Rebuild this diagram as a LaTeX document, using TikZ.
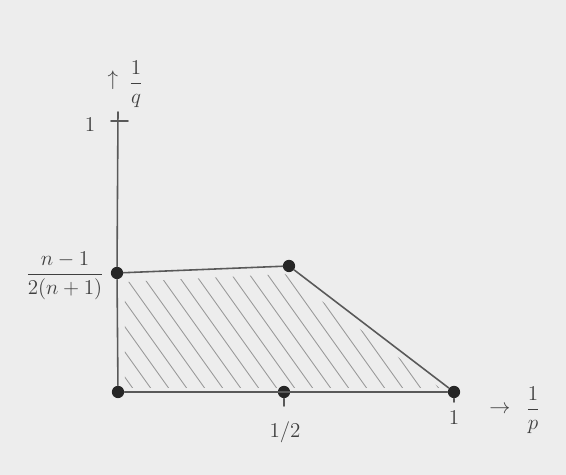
\documentclass[tikz,border=0pt]{standalone}
\usepackage{amsmath}
\begin{document}
\begin{tikzpicture}[x=0.02cm,y=-0.02cm,
  edge/.style={draw=black!65,line width=0.9pt,line cap=round},
  pt/.style={circle,fill=black!85,inner sep=0pt,minimum size=7pt},
  lbl/.style={text=black!75,font=\large},
  hatch/.style={draw=black!40,line width=0.5pt,line cap=round}]
\fill[black!7] (0,0) rectangle (566,475);
\useasboundingbox (0,0) rectangle (566,475);
% axes
\coordinate (top) at (118,112);
\coordinate (t1l) at (111,121);
\coordinate (t1r) at (128,121);
\node[pt] (O) at (118,392) {};
\node[pt] (A) at (117,273) {};
\node[pt] (B) at (289,266) {};
\node[pt] (C) at (454,392) {};
\node[pt] (M) at (284,392) {};
\coordinate (Mt) at (284,406);
\coordinate (Ct) at (454,402);
% hatching
\begin{scope}
\clip (125,282) -- (285,274) -- (440,388) -- (125,388) -- cycle;
\foreach \s in {-200,-182,...,360} {
  \draw[hatch] (\s,250) -- ++(130,182);
}
\end{scope}
\draw[edge] (top) -- (A) -- (O);
\draw[edge] (t1l) -- (t1r);
\draw[edge] (A) -- (B) -- (C) -- (O);
\draw[edge] (M) -- (Mt);
\draw[edge] (C) -- (Ct);
% labels
\node[lbl] (l1) at (90,125) {$1$};
\node[lbl,inner sep=1pt] (la) at (113,80) {$\uparrow$};
\node[lbl,inner sep=1pt] (lq) at (136,84) {$\dfrac{1}{q}$};
\node[lbl] (lf) at (65,276) {$\dfrac{n-1}{2(n+1)}$};
\node[lbl] (lh) at (285,432) {$1/2$};
\node[lbl] (lc) at (454,418) {$1$};
\node[lbl,inner sep=1pt] (lr) at (500,410) {$\rightarrow$};
\node[lbl,inner sep=1pt] (lp) at (533,410) {$\dfrac{1}{p}$};
\end{tikzpicture}
\end{document}
